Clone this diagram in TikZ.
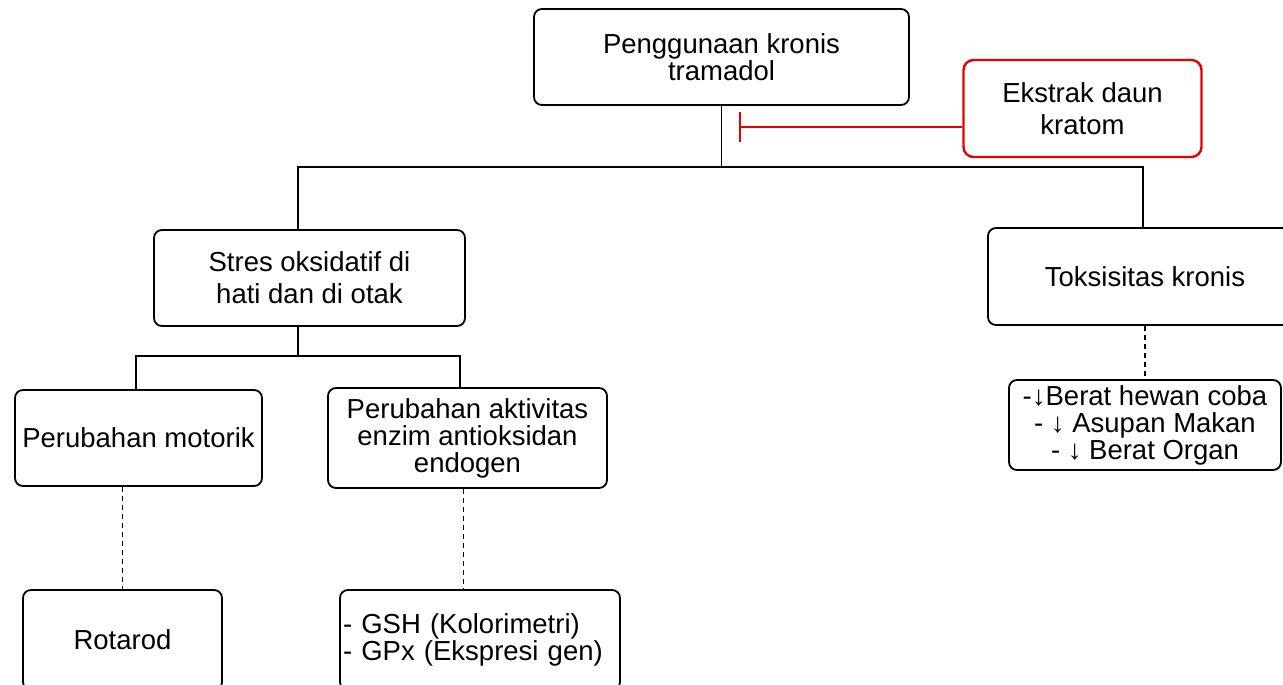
\documentclass[tikz,border=0pt]{standalone}
\usepackage{fontspec}
\setmainfont{Liberation Sans}
\usetikzlibrary{arrows.meta,positioning}
\definecolor{kratomred}{RGB}{232,0,0}

\begin{document}
\begin{tikzpicture}[x=1pt,y=-1pt,
  box/.style={draw, rounded corners=8pt, line width=1.8pt, align=center, inner sep=2pt,
    font=\fontsize{27.5}{27}\selectfont},
  widebox/.style={box, font=\fontsize{27.5}{32}\selectfont},
  redbox/.style={widebox, draw=kratomred, line width=2.4pt, rounded corners=10pt},
  link/.style={line width=1.8pt},
  dots/.style={line width=1.8pt, dash pattern=on 5pt off 4pt},
  inhibit/.style={draw=kratomred, line width=2.2pt, -{Bar[width=30pt,line width=2.2pt]}}]
\useasboundingbox (0,0) rectangle (1283,685);

% Boxes
\node[box, minimum width=375, minimum height=96] (use) at (721.5,57) {Penggunaan kronis\\tramadol};
\node[redbox, minimum width=238, minimum height=97] (kratom) at (1082.5,108.5) {Ekstrak daun\\kratom};
\node[widebox, minimum width=311, minimum height=96] (stres) at (309.5,278) {Stres oksidatif di\\hati dan di otak};
\node[box, minimum width=314, minimum height=97] (tox) at (1145,276.5) {Toksisitas kronis};
\node[box, minimum width=247, minimum height=96] (motor) at (138.5,438) {Perubahan motorik};
\node[box, minimum width=279, minimum height=100] (enzim) at (467.5,438) {Perubahan aktivitas\\enzim antioksidan\\endogen};
\node[box, minimum width=199, minimum height=100] (rotarod) at (122.5,640) {Rotarod};
\node[box, minimum width=280, minimum height=100, text width=274, align=left] (gsh) at (480,640) {- GSH (Kolorimetri)\\- GPx (Ekspresi gen)};
\node[box, minimum width=272, minimum height=90] (weight) at (1145,425) {-↓Berat hewan coba\\- ↓ Asupan Makan\\- ↓ Berat Organ};

% Forks
\coordinate (fork1) at (721.5,167); \coordinate (fork1l) at (298,167); \coordinate (fork1r) at (1143,167);
\coordinate (fork2) at (298,356); \coordinate (fork2l) at (136,356); \coordinate (fork2r) at (460,356);
\draw[link] (use.south) -- (fork1);
\draw[link] (stres.north -| fork1l) |- (fork1r) -- (tox.north -| fork1r);
\draw[link] (stres.south -| fork2) -- (fork2);
\draw[link] (motor.north -| fork2l) |- (fork2r) -- (enzim.north -| fork2r);

% Measurements
\draw[dots] (motor.south -| rotarod.north) -- (rotarod.north);
\draw[dots] ([xshift=-4pt]enzim.south) -- ([xshift=-4pt]enzim.south |- gsh.north);
\draw[dots] (tox.south) -- (weight.north);

% Kratom inhibits
\coordinate (block) at (739,127);
\draw[inhibit] (kratom.west |- block) -- (block);
\end{tikzpicture}
\end{document}
